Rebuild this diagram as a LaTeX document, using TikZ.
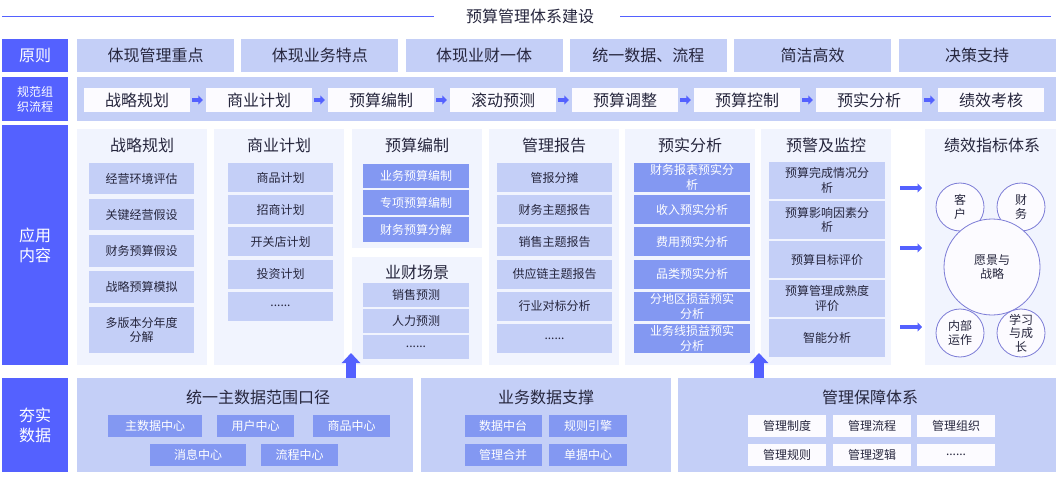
\documentclass[tikz,border=0pt]{standalone}
\usepackage{fontspec}
\setmainfont{Noto Sans CJK SC}
\usetikzlibrary{arrows.meta}

\definecolor{labblue}{HTML}{5461FF}
\definecolor{panelc}{HTML}{C4CFF7}
\definecolor{darkc}{HTML}{8398F2}
\definecolor{colbg}{HTML}{F1F4FE}
\definecolor{stepbg}{HTML}{FCFBFF}
\definecolor{txtc}{HTML}{26263D}
\definecolor{ringc}{HTML}{7B7BD6}

\begin{document}
\begin{tikzpicture}[x=1pt,y=-1pt,
  every node/.style={inner sep=0pt,align=center,text=txtc},
  bigtxt/.style={font=\fontsize{16pt}{19pt}\selectfont},
  smalltxt/.style={font=\fontsize{12pt}{14.5pt}\selectfont},
  lab/.style={fill=labblue,text=white,minimum width=66pt,font=\fontsize{16pt}{20pt}\selectfont},
  prin/.style={fill=panelc,minimum width=157pt,minimum height=33pt,bigtxt},
  stepbox/.style={fill=stepbg,minimum width=106pt,minimum height=24pt,bigtxt},
  colpanel/.style={fill=colbg,minimum width=130pt},
  lit/.style={fill=panelc,smalltxt},
  dit/.style={fill=darkc,text=white,smalltxt,minimum height=22pt},
  wit/.style={fill=stepbg,smalltxt,minimum width=78pt,minimum height=22pt},
  ring/.style={circle,draw=ringc,line width=0.8pt,fill=stepbg,font=\fontsize{12pt}{13.5pt}\selectfont},
  flowarr/.style={draw=labblue,line width=4.5pt,-{Triangle[length=4.5pt,width=9pt]}},
  uparr/.style={draw=labblue,line width=10pt,-{Triangle[length=10pt,width=18pt]}}
]
\useasboundingbox (0,0) rectangle (1064,476);

\node[bigtxt] at (530,16.5) (title) {预算管理体系建设};
\coordinate (tl) at (2,16.5);
\coordinate (tr) at (1051,16.5);
\draw[labblue,line width=1pt] (tl) -- ([xshift=-32pt]title.west);
\draw[labblue,line width=1pt] ([xshift=26pt]title.east) -- (tr);

\node[lab,minimum height=33pt] at (35,55.5) (Lrule) {原则};
\node[prin] at (155.5,55.5) (R1) {体现管理重点};
\node[prin] at (319.8,55.5) (R2) {体现业务特点};
\node[prin] at (484.1,55.5) (R3) {体现业财一体};
\node[prin] at (648.4,55.5) (R4) {统一数据、流程};
\node[prin] at (812.7,55.5) (R5) {简洁高效};
\node[prin] at (977,55.5) (R6) {决策支持};

\node[lab,minimum height=43.5pt,font=\fontsize{12pt}{15pt}\selectfont] at (35,99.25) (Lflow) {规范组\\织流程};
\node[fill=panelc,minimum width=979pt,minimum height=43.5pt] at (566.5,99.25) (flow) {};
\node[stepbox] at (137,100) (S1) {战略规划};
\node[stepbox] at (259,100) (S2) {商业计划};
\node[stepbox] at (381,100) (S3) {预算编制};
\node[stepbox] at (503,100) (S4) {滚动预测};
\node[stepbox] at (625,100) (S5) {预算调整};
\node[stepbox] at (747,100) (S6) {预算控制};
\node[stepbox] at (869,100) (S7) {预实分析};
\node[stepbox] at (991,100) (S8) {绩效考核};
\draw[flowarr,shorten <=2pt,shorten >=3pt] (S1) -- (S2);
\draw[flowarr,shorten <=2pt,shorten >=3pt] (S2) -- (S3);
\draw[flowarr,shorten <=2pt,shorten >=3pt] (S3) -- (S4);
\draw[flowarr,shorten <=2pt,shorten >=3pt] (S4) -- (S5);
\draw[flowarr,shorten <=2pt,shorten >=3pt] (S5) -- (S6);
\draw[flowarr,shorten <=2pt,shorten >=3pt] (S6) -- (S7);
\draw[flowarr,shorten <=2pt,shorten >=3pt] (S7) -- (S8);

\node[lab,minimum height=240pt] at (35,245) (Lapp) {应用\\内容};
\node[colpanel,minimum height=236pt] at (142,247) (strat) {};
\node[colpanel,minimum height=236pt] at (279,247) (biz) {};
\node[colpanel,minimum height=119pt] at (417,188.5) (bud) {};
\node[colpanel,minimum height=108pt] at (417,311) (scen) {};
\node[colpanel,minimum height=236pt] at (554,247) (rep) {};
\node[colpanel,minimum height=236pt] at (690,247) (ana) {};
\node[colpanel,minimum height=236pt] at (826,247) (warn) {};
\node[colpanel,minimum width=131pt,minimum height=236pt] at (990.5,247) (kpi) {};

\node[bigtxt] at (142,145) (stratH) {战略规划};
\node[lit,minimum width=105pt,minimum height=31pt] at (141.5,178.5) (st1) {经营环境评估};
\node[lit,minimum width=105pt,minimum height=31pt] at (141.5,214.5) (st2) {关键经营假设};
\node[lit,minimum width=105pt,minimum height=32pt] at (141.5,251) (st3) {财务预算假设};
\node[lit,minimum width=105pt,minimum height=32pt] at (141.5,287) (st4) {战略预算模拟};
\node[lit,minimum width=105pt,minimum height=46pt] at (141.5,330) (st5) {多版本分年度\\分解};

\node[bigtxt] at (279,145) (bizH) {商业计划};
\node[lit,minimum width=105pt,minimum height=29pt] at (280.5,177.5) (bz1) {商品计划};
\node[lit,minimum width=105pt,minimum height=29pt] at (280.5,209.7) (bz2) {招商计划};
\node[lit,minimum width=105pt,minimum height=29pt] at (280.5,241.9) (bz3) {开关店计划};
\node[lit,minimum width=105pt,minimum height=29pt] at (280.5,274.1) (bz4) {投资计划};
\node[lit,minimum width=105pt,minimum height=29pt] at (280.5,306.3) (bz5) {......};

\node[bigtxt] at (417,145) (budH) {预算编制};
\node[dit,minimum width=106pt,minimum height=24pt] at (416,176) (bd1) {业务预算编制};
\node[dit,minimum width=106pt,minimum height=25pt] at (416,202.5) (bd2) {专项预算编制};
\node[dit,minimum width=106pt,minimum height=25pt] at (416,229.5) (bd3) {财务预算分解};

\node[bigtxt] at (417,272) (scenH) {业财场景};
\node[lit,minimum width=106pt,minimum height=24pt] at (416,295) (sc1) {销售预测};
\node[lit,minimum width=106pt,minimum height=24pt] at (416,321) (sc2) {人力预测};
\node[lit,minimum width=106pt,minimum height=24pt] at (416,347) (sc3) {......};

\node[bigtxt] at (554,145) (repH) {管理报告};
\node[lit,minimum width=115pt,minimum height=29pt] at (554.5,177.5) (rp1) {管报分摊};
\node[lit,minimum width=115pt,minimum height=29pt] at (554.5,209.7) (rp2) {财务主题报告};
\node[lit,minimum width=115pt,minimum height=29pt] at (554.5,241.9) (rp3) {销售主题报告};
\node[lit,minimum width=115pt,minimum height=29pt] at (554.5,274.1) (rp4) {供应链主题报告};
\node[lit,minimum width=115pt,minimum height=29pt] at (554.5,306.3) (rp5) {行业对标分析};
\node[lit,minimum width=115pt,minimum height=29pt] at (554.5,338.5) (rp6) {......};

\node[bigtxt] at (690,145) (anaH) {预实分析};
\node[dit,minimum width=116pt,minimum height=29pt] at (692,177.5) (an1) {财务报表预实分\\析};
\node[dit,minimum width=116pt,minimum height=29pt] at (692,209.7) (an2) {收入预实分析};
\node[dit,minimum width=116pt,minimum height=29pt] at (692,241.9) (an3) {费用预实分析};
\node[dit,minimum width=116pt,minimum height=29pt] at (692,274.1) (an4) {品类预实分析};
\node[dit,minimum width=116pt,minimum height=29pt] at (692,306.3) (an5) {分地区损益预实\\分析};
\node[dit,minimum width=116pt,minimum height=29pt] at (692,338.5) (an6) {业务线损益预实\\分析};

\node[bigtxt] at (826,145) (warnH) {预警及监控};
\node[lit,minimum width=116pt,minimum height=37.5pt] at (827,180.5) (wn1) {预算完成情况分\\析};
\node[lit,minimum width=116pt,minimum height=37.5pt] at (827,220) (wn2) {预算影响因素分\\析};
\node[lit,minimum width=116pt,minimum height=37.5pt] at (827,259.5) (wn3) {预算目标评价};
\node[lit,minimum width=116pt,minimum height=37.5pt] at (827,298.5) (wn4) {预算管理成熟度\\评价};
\node[lit,minimum width=116pt,minimum height=37.5pt] at (827,338) (wn5) {智能分析};

\node[bigtxt] at (992,145) (kpiH) {绩效指标体系};
\node[ring,minimum size=48pt] at (960,207) (cust) {客\\户};
\node[ring,minimum size=48pt] at (1021,207) (fin) {财\\务};
\node[ring,minimum size=96pt] at (992,267) (vis) {愿景与\\战略};
\node[ring,minimum size=48pt] at (960,333) (proc) {内部\\运作};
\node[ring,minimum size=48pt] at (1021,333) (learn) {学习\\与成\\长};

\coordinate (k1) at (922,188);
\coordinate (k2) at (922,248);
\coordinate (k3) at (922,327);
\draw[flowarr,line width=4pt,shorten <=9pt] (warn.east |- k1) -- (k1);
\draw[flowarr,line width=4pt,shorten <=9pt] (warn.east |- k2) -- (k2);
\draw[flowarr,line width=4pt,shorten <=9pt] (warn.east |- k3) -- (k3);

\node[lab,minimum height=94pt] at (35,425) (Lbase) {夯实\\数据};
\node[fill=panelc,minimum width=336pt,minimum height=94pt] at (245,425) (mdm) {};
\node[bigtxt] at (258,397) (mdmH) {统一主数据范围口径};
\node[dit,minimum width=94pt] at (155,426) (md1) {主数据中心};
\node[dit,minimum width=77pt] at (255.5,426) (md2) {用户中心};
\node[dit,minimum width=77pt] at (351.5,426) (md3) {商品中心};
\node[dit,minimum width=96pt] at (198,455) (md4) {消息中心};
\node[dit,minimum width=77pt] at (299.5,455) (md5) {流程中心};

\node[fill=panelc,minimum width=250pt,minimum height=94pt] at (546,425) (bdata) {};
\node[bigtxt] at (546,397) (bdataH) {业务数据支撑};
\node[dit,minimum width=77pt] at (503,426) (bt1) {数据中台};
\node[dit,minimum width=78pt] at (588,426) (bt2) {规则引擎};
\node[dit,minimum width=77pt] at (503,455) (bt3) {管理合并};
\node[dit,minimum width=78pt] at (588,455) (bt4) {单据中心};

\node[fill=panelc,minimum width=378pt,minimum height=94pt] at (867,425) (gov) {};
\node[bigtxt] at (870,397) (govH) {管理保障体系};
\node[wit] at (787,426) (gv1) {管理制度};
\node[wit] at (872,426) (gv2) {管理流程};
\node[wit] at (956,426) (gv3) {管理组织};
\node[wit] at (787,455) (gv4) {管理规则};
\node[wit] at (872,455) (gv5) {管理逻辑};
\node[wit] at (956,455) (gv6) {......};

\coordinate (u1) at (351,353);
\coordinate (u2) at (759,353);
\draw[uparr] (u1 |- mdm.north) -- (u1);
\draw[uparr] (u2 |- gov.north) -- (u2);

\end{tikzpicture}
\end{document}
